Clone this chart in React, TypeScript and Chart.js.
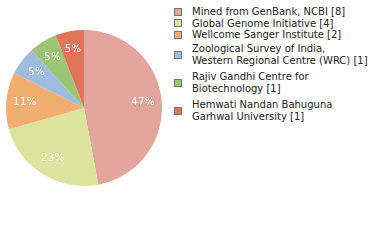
import React, { useEffect, useRef } from "react";
import { Chart, registerables } from "chart.js";

Chart.register(...registerables);

const categories = [
  "Mined from GenBank, NCBI",
  "Global Genome Initiative",
  "Wellcome Sanger Institute",
  "Zoological Survey of India, Western Regional Centre (WRC)",
  "Rajiv Gandhi Centre for Biotechnology",
  "Hemwati Nandan Bahuguna Garhwal University",
];
const counts = [8, 4, 2, 1, 1, 1];
const legendLines = [
  ["Mined from GenBank, NCBI [8]"],
  ["Global Genome Initiative [4]"],
  ["Wellcome Sanger Institute [2]"],
  ["Zoological Survey of India,", "Western Regional Centre (WRC) [1]"],
  ["Rajiv Gandhi Centre for", "Biotechnology [1]"],
  ["Hemwati Nandan Bahuguna", "Garhwal University [1]"],
];
const colors = ["#e1a59c", "#dde29c", "#f0ae70", "#9ebce0", "#9cc676", "#de745a"];

const FONT = '"DejaVu Sans", Verdana, sans-serif';

const pctLabels = {
  id: "pctLabels",
  afterDatasetsDraw(chart: any) {
    const ctx = chart.ctx;
    const meta = chart.getDatasetMeta(0);
    const data = chart.data.datasets[0].data as number[];
    const total = data.reduce((a, b) => a + b, 0);
    ctx.save();
    ctx.fillStyle = "#ffffff";
    ctx.font = `10px ${FONT}`;
    try {
      (ctx as any).letterSpacing = "0.5px";
    } catch (e) {}
    ctx.textAlign = "center";
    ctx.textBaseline = "middle";
    meta.data.forEach((arc: any, i: number) => {
      const p = arc.getProps(["startAngle", "endAngle", "x", "y", "outerRadius"], true);
      const mid = (p.startAngle + p.endAngle) / 2;
      const r = p.outerRadius * 0.76;
      const pct = Math.floor((data[i] / total) * 100);
      ctx.fillText(pct + "%", p.x + Math.cos(mid) * r, p.y + Math.sin(mid) * r);
    });
    ctx.restore();
  },
};

export default function App() {
  const ref = useRef<HTMLCanvasElement>(null);
  useEffect(() => {
    if (!ref.current) return;
    const chart = new Chart(ref.current, {
      type: "pie",
      data: {
        labels: categories,
        datasets: [
          {
            data: counts,
            backgroundColor: colors,
            borderWidth: 0,
          },
        ],
      },
      options: {
        responsive: false,
        animation: false,
        layout: { padding: 6 },
        plugins: {
          legend: { display: false },
          tooltip: { enabled: false },
        },
      },
      plugins: [pctLabels],
    });
    return () => chart.destroy();
  }, []);

  return (
    <div
      style={{
        position: "fixed",
        left: 0,
        top: 0,
        width: 380,
        height: 240,
        background: "#fff",
        overflow: "hidden",
      }}
    >
      <canvas
        ref={ref}
        width={168}
        height={216}
        style={{ position: "absolute", left: 0, top: 0, width: 168, height: 216 }}
      />
      <div
        style={{
          position: "absolute",
          left: 174,
          top: 6,
          fontFamily: FONT,
          fontSize: 10,
          color: "#222",
        }}
      >
        {legendLines.map((lines, i) => (
          <div
            key={i}
            style={{
              display: "flex",
              alignItems: "center",
              paddingTop: lines.length > 1 ? 2.5 : 0,
              paddingBottom: lines.length > 1 ? 2.5 : 0,
            }}
          >
            <div
              style={{
                width: 6,
                height: 6,
                background: colors[i],
                border: "1px solid #777",
                marginRight: 10,
                flex: "none",
              }}
            />
            <div style={{ lineHeight: "11.5px" }}>
              {lines.map((l, j) => (
                <div key={j} style={{ whiteSpace: "nowrap" }}>
                  {l}
                </div>
              ))}
            </div>
          </div>
        ))}
      </div>
    </div>
  );
}
